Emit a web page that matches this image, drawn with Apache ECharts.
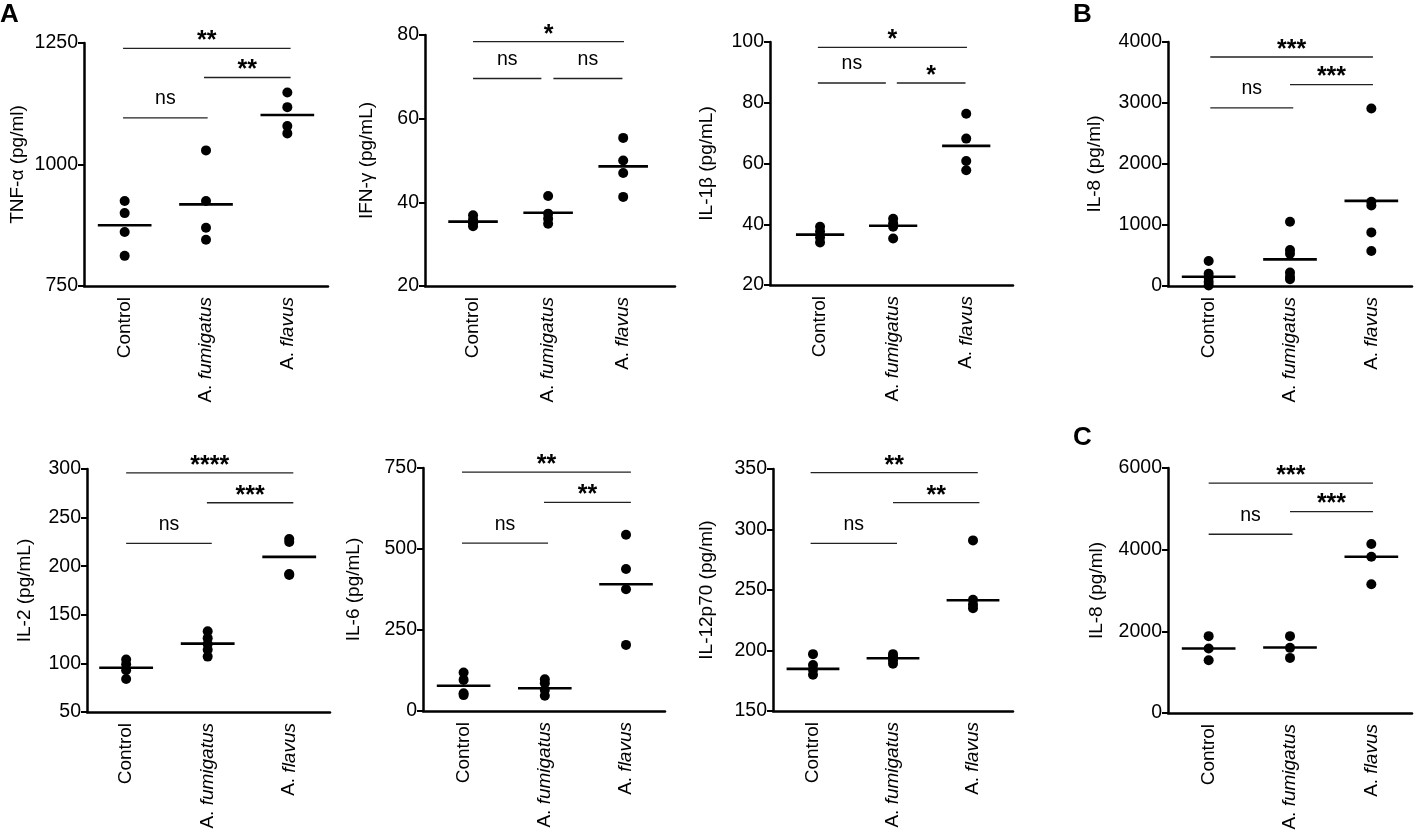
<!DOCTYPE html>
<html><head><meta charset="utf-8">
<script src="https://cdn.jsdelivr.net/npm/echarts@6/dist/echarts.min.js"></script>
<style>html,body{margin:0;padding:0;background:#fff}#c{width:1415px;height:840px}</style>
</head><body><div id="c"></div>
<script>
// ---------- data ----------
const categories = ['Control', 'A. fumigatus', 'A. flavus'];

const tnfTitle = 'TNF-α (pg/ml)';
const tnfTicks = [750, 1000, 1250];
const tnfPoints = [[925, 900, 861, 812], [1029, 925, 870, 845], [1148, 1118, 1079, 1064]];
const tnfCenters = [875, 918, 1102];
const tnfBrackets = [[-0.02, 2.04, 1239, '**'], [0.975, 2.04, 1179, '**'], [-0.02, 1.02, 1096, 'ns']];

const ifnTitle = 'IFN-γ (pg/mL)';
const ifnTicks = [20, 40, 60, 80];
const ifnPoints = [[36.9, 35.9, 35.0, 34.3], [41.5, 37.3, 36.1, 34.9], [55.4, 50.0, 47.0, 41.3]];
const ifnCenters = [35.4, 37.5, 48.6];
const ifnBrackets = [[0, 2.01, 78.4, '*'], [0, 0.91, 69.6, 'ns'], [1.07, 1.99, 69.6, 'ns']];

const il1bTitle = 'IL-1β (pg/mL)';
const il1bTicks = [20, 40, 60, 80, 100];
const il1bPoints = [[39.2, 37.6, 35.6, 34.0], [41.8, 40.3, 39.2, 35.3], [76.4, 68.2, 60.8, 57.8]];
const il1bCenters = [36.6, 39.5, 65.8];
const il1bBrackets = [[-0.03, 2.01, 98.2, '*'], [-0.03, 0.9, 86.5, 'ns'], [1.05, 1.99, 86.5, '*']];

const il8bTitle = 'IL-8 (pg/ml)';
const il8bTicks = [0, 1000, 2000, 3000, 4000];
const il8bPoints = [[410, 200, 140, 70, 10], [1053, 590, 530, 220, 150, 110], [2909, 1380, 1320, 879, 575]];
const il8bCenters = [152, 437, 1395];
const il8bBrackets = [[0.02, 2.02, 3754, '***'], [1.0, 2.02, 3302, '***'], [0.02, 1.04, 2919, 'ns']];

const il2Title = 'IL-2 (pg/mL)';
const il2Ticks = [50, 100, 150, 200, 250, 300];
const il2Points = [[104, 99, 93, 84], [133, 126, 120, 114, 107], [228, 225, 192, 191]];
const il2Centers = [95.6, 120.3, 209.6];
const il2Brackets = [[0, 2.05, 296, '****'], [0.99, 2.05, 265.3, '***'], [0, 1.05, 223.4, 'ns']];

const il6Title = 'IL-6 (pg/mL)';
const il6Ticks = [0, 250, 500, 750];
const il6Points = [[119, 96, 55, 49], [98, 86, 65, 47], [544, 438, 376, 204]];
const il6Centers = [78, 70, 391];
const il6Brackets = [[-0.02, 2.06, 737, '**'], [0.99, 2.06, 643.6, '**'], [-0.02, 1.04, 518, 'ns']];

const il12Title = 'IL-12p70 (pg/ml)';
const il12Ticks = [150, 200, 250, 300, 350];
const il12Points = [[197, 188, 184, 180], [197, 195, 192, 189], [291, 242, 238, 235]];
const il12Centers = [184.8, 193.6, 241.5];
const il12Brackets = [[-0.03, 2.06, 347, '**'], [1.0, 2.08, 322.2, '**'], [-0.03, 1.05, 288.6, 'ns']];

const il8cTitle = 'IL-8 (pg/ml)';
const il8cTicks = [0, 2000, 4000, 6000];
const il8cPoints = [[1882, 1580, 1293], [1882, 1595, 1350], [4140, 3828, 3151]];
const il8cCenters = [1580, 1605, 3828];
const il8cBrackets = [[0, 2.02, 5630, '***'], [1.0, 2.02, 4933, '***'], [0, 1.03, 4378, 'ns']];

const panelLetters = ['A', 'B', 'C'];

// ---------- layout (positions / styles) ----------
const FONT = '"Liberation Sans", Arial, Helvetica, sans-serif';
const layout = [
  {left: 84,   top: 43,  width: 244, height: 243, xMin: -0.5,  xMax: 2.5,  gap: 57},
  {left: 425,  top: 35,  width: 250, height: 251, xMin: -0.64, xMax: 2.69, gap: 49},
  {left: 770,  top: 42,  width: 243, height: 243, xMin: -0.685, xMax: 2.64, gap: 54},
  {left: 1168, top: 42,  width: 244, height: 244, xMin: -0.5,  xMax: 2.5,  gap: 64},
  {left: 87,   top: 469, width: 243, height: 243, xMin: -0.48, xMax: 2.5,  gap: 53},
  {left: 423,  top: 468, width: 242, height: 243, xMin: -0.5,  xMax: 2.48, gap: 60},
  {left: 773,  top: 469, width: 240, height: 242, xMin: -0.5,  xMax: 2.5,  gap: 57},
  {left: 1168, top: 468, width: 244, height: 245, xMin: -0.5,  xMax: 2.5,  gap: 62}
];
const panels = [
  {title: tnfTitle,  ticks: tnfTicks,  points: tnfPoints,  centers: tnfCenters,  brackets: tnfBrackets},
  {title: ifnTitle,  ticks: ifnTicks,  points: ifnPoints,  centers: ifnCenters,  brackets: ifnBrackets},
  {title: il1bTitle, ticks: il1bTicks, points: il1bPoints, centers: il1bCenters, brackets: il1bBrackets},
  {title: il8bTitle, ticks: il8bTicks, points: il8bPoints, centers: il8bCenters, brackets: il8bBrackets},
  {title: il2Title,  ticks: il2Ticks,  points: il2Points,  centers: il2Centers,  brackets: il2Brackets},
  {title: il6Title,  ticks: il6Ticks,  points: il6Points,  centers: il6Centers,  brackets: il6Brackets},
  {title: il12Title, ticks: il12Ticks, points: il12Points, centers: il12Centers, brackets: il12Brackets},
  {title: il8cTitle, ticks: il8cTicks, points: il8cPoints, centers: il8cCenters, brackets: il8cBrackets}
];

function catLabel(v) {
  const c = categories[Math.round(v)];
  if (c === undefined) return '';
  if (c.indexOf('A. ') === 0) return 'A. {i|' + c.slice(3) + '}';
  return c;
}

const grid = [], xAxis = [], yAxis = [], series = [];
panels.forEach((p, i) => {
  const L = layout[i];
  grid.push({left: L.left, top: L.top, width: L.width, height: L.height, containLabel: false});
  xAxis.push({
    gridIndex: i, type: 'value', min: L.xMin, max: L.xMax,
    axisLine: {show: true, onZero: false, lineStyle: {color: '#000', width: 2.5}},
    axisTick: {show: false}, splitLine: {show: false},
    axisLabel: {
      customValues: [0, 1, 2], rotate: 90, margin: 11, fontSize: 19, color: '#000', fontFamily: FONT,
      formatter: catLabel,
      rich: {i: {fontStyle: 'italic', fontSize: 19, color: '#000', fontFamily: FONT}}
    }
  });
  const t = p.ticks;
  yAxis.push({
    gridIndex: i, type: 'value', min: t[0], max: t[t.length - 1], interval: t[1] - t[0],
    name: p.title, nameLocation: 'middle', nameRotate: 90, nameGap: L.gap,
    nameTextStyle: {fontSize: 19, color: '#000', fontFamily: FONT},
    axisLine: {show: true, onZero: false, lineStyle: {color: '#000', width: 2.5}},
    axisTick: {show: true, length: 6, lineStyle: {color: '#000', width: 2}},
    axisLabel: {fontSize: 19.5, color: '#000', margin: 6, fontFamily: FONT,
      formatter: v => String(v)},
    splitLine: {show: false}
  });
  const pts = [];
  p.points.forEach((arr, ci) => arr.forEach(v => pts.push([ci, v])));
  series.push({
    type: 'scatter', xAxisIndex: i, yAxisIndex: i, data: pts,
    symbol: 'circle', symbolSize: 10, itemStyle: {color: '#000', opacity: 1}, silent: true, clip: false
  });
  series.push({
    type: 'custom', xAxisIndex: i, yAxisIndex: i, clip: false, silent: true,
    data: p.centers.map((v, ci) => [ci, v]),
    encode: {x: 0, y: 1},
    renderItem: function (params, api) {
      const c = api.coord([api.value(0), api.value(1)]);
      const w = api.size([1, 0])[0] * 0.33;
      return {type: 'line', shape: {x1: c[0] - w, y1: c[1], x2: c[0] + w, y2: c[1]},
        style: {stroke: '#000', lineWidth: 2.6}};
    }
  });
  const br = p.brackets;
  series.push({
    type: 'custom', xAxisIndex: i, yAxisIndex: i, clip: false, silent: true,
    data: br.map(b => [b[0], b[1], b[2]]),
    encode: {x: [0, 1], y: 2},
    renderItem: function (params, api) {
      const b = br[params.dataIndex];
      const a = api.coord([b[0], b[2]]);
      const e = api.coord([b[1], b[2]]);
      const isNs = b[3] === 'ns';
      return {type: 'group', children: [
        {type: 'line', shape: {x1: a[0], y1: a[1], x2: e[0], y2: e[1]},
          style: {stroke: '#222', lineWidth: 1.3}},
        {type: 'text', x: (a[0] + e[0]) / 2, y: a[1] + (isNs ? -19 : -7),
          style: {text: b[3], fill: '#000', align: 'center', verticalAlign: 'middle',
            font: (isNs ? 'normal 19.5px ' : 'bold 25px ') + FONT}}
      ]};
    }
  });
});

const chart = echarts.init(document.getElementById('c'), null, {renderer: 'canvas'});
chart.setOption({
  animation: false,
  backgroundColor: '#fff',
  grid, xAxis, yAxis, series,
  graphic: [
    {type: 'text', left: 0, top: 2, style: {text: panelLetters[0], font: 'bold 26px ' + FONT, fill: '#000'}},
    {type: 'text', left: 1073, top: 2, style: {text: panelLetters[1], font: 'bold 26px ' + FONT, fill: '#000'}},
    {type: 'text', left: 1073, top: 425, style: {text: panelLetters[2], font: 'bold 26px ' + FONT, fill: '#000'}}
  ]
});
</script></body></html>
